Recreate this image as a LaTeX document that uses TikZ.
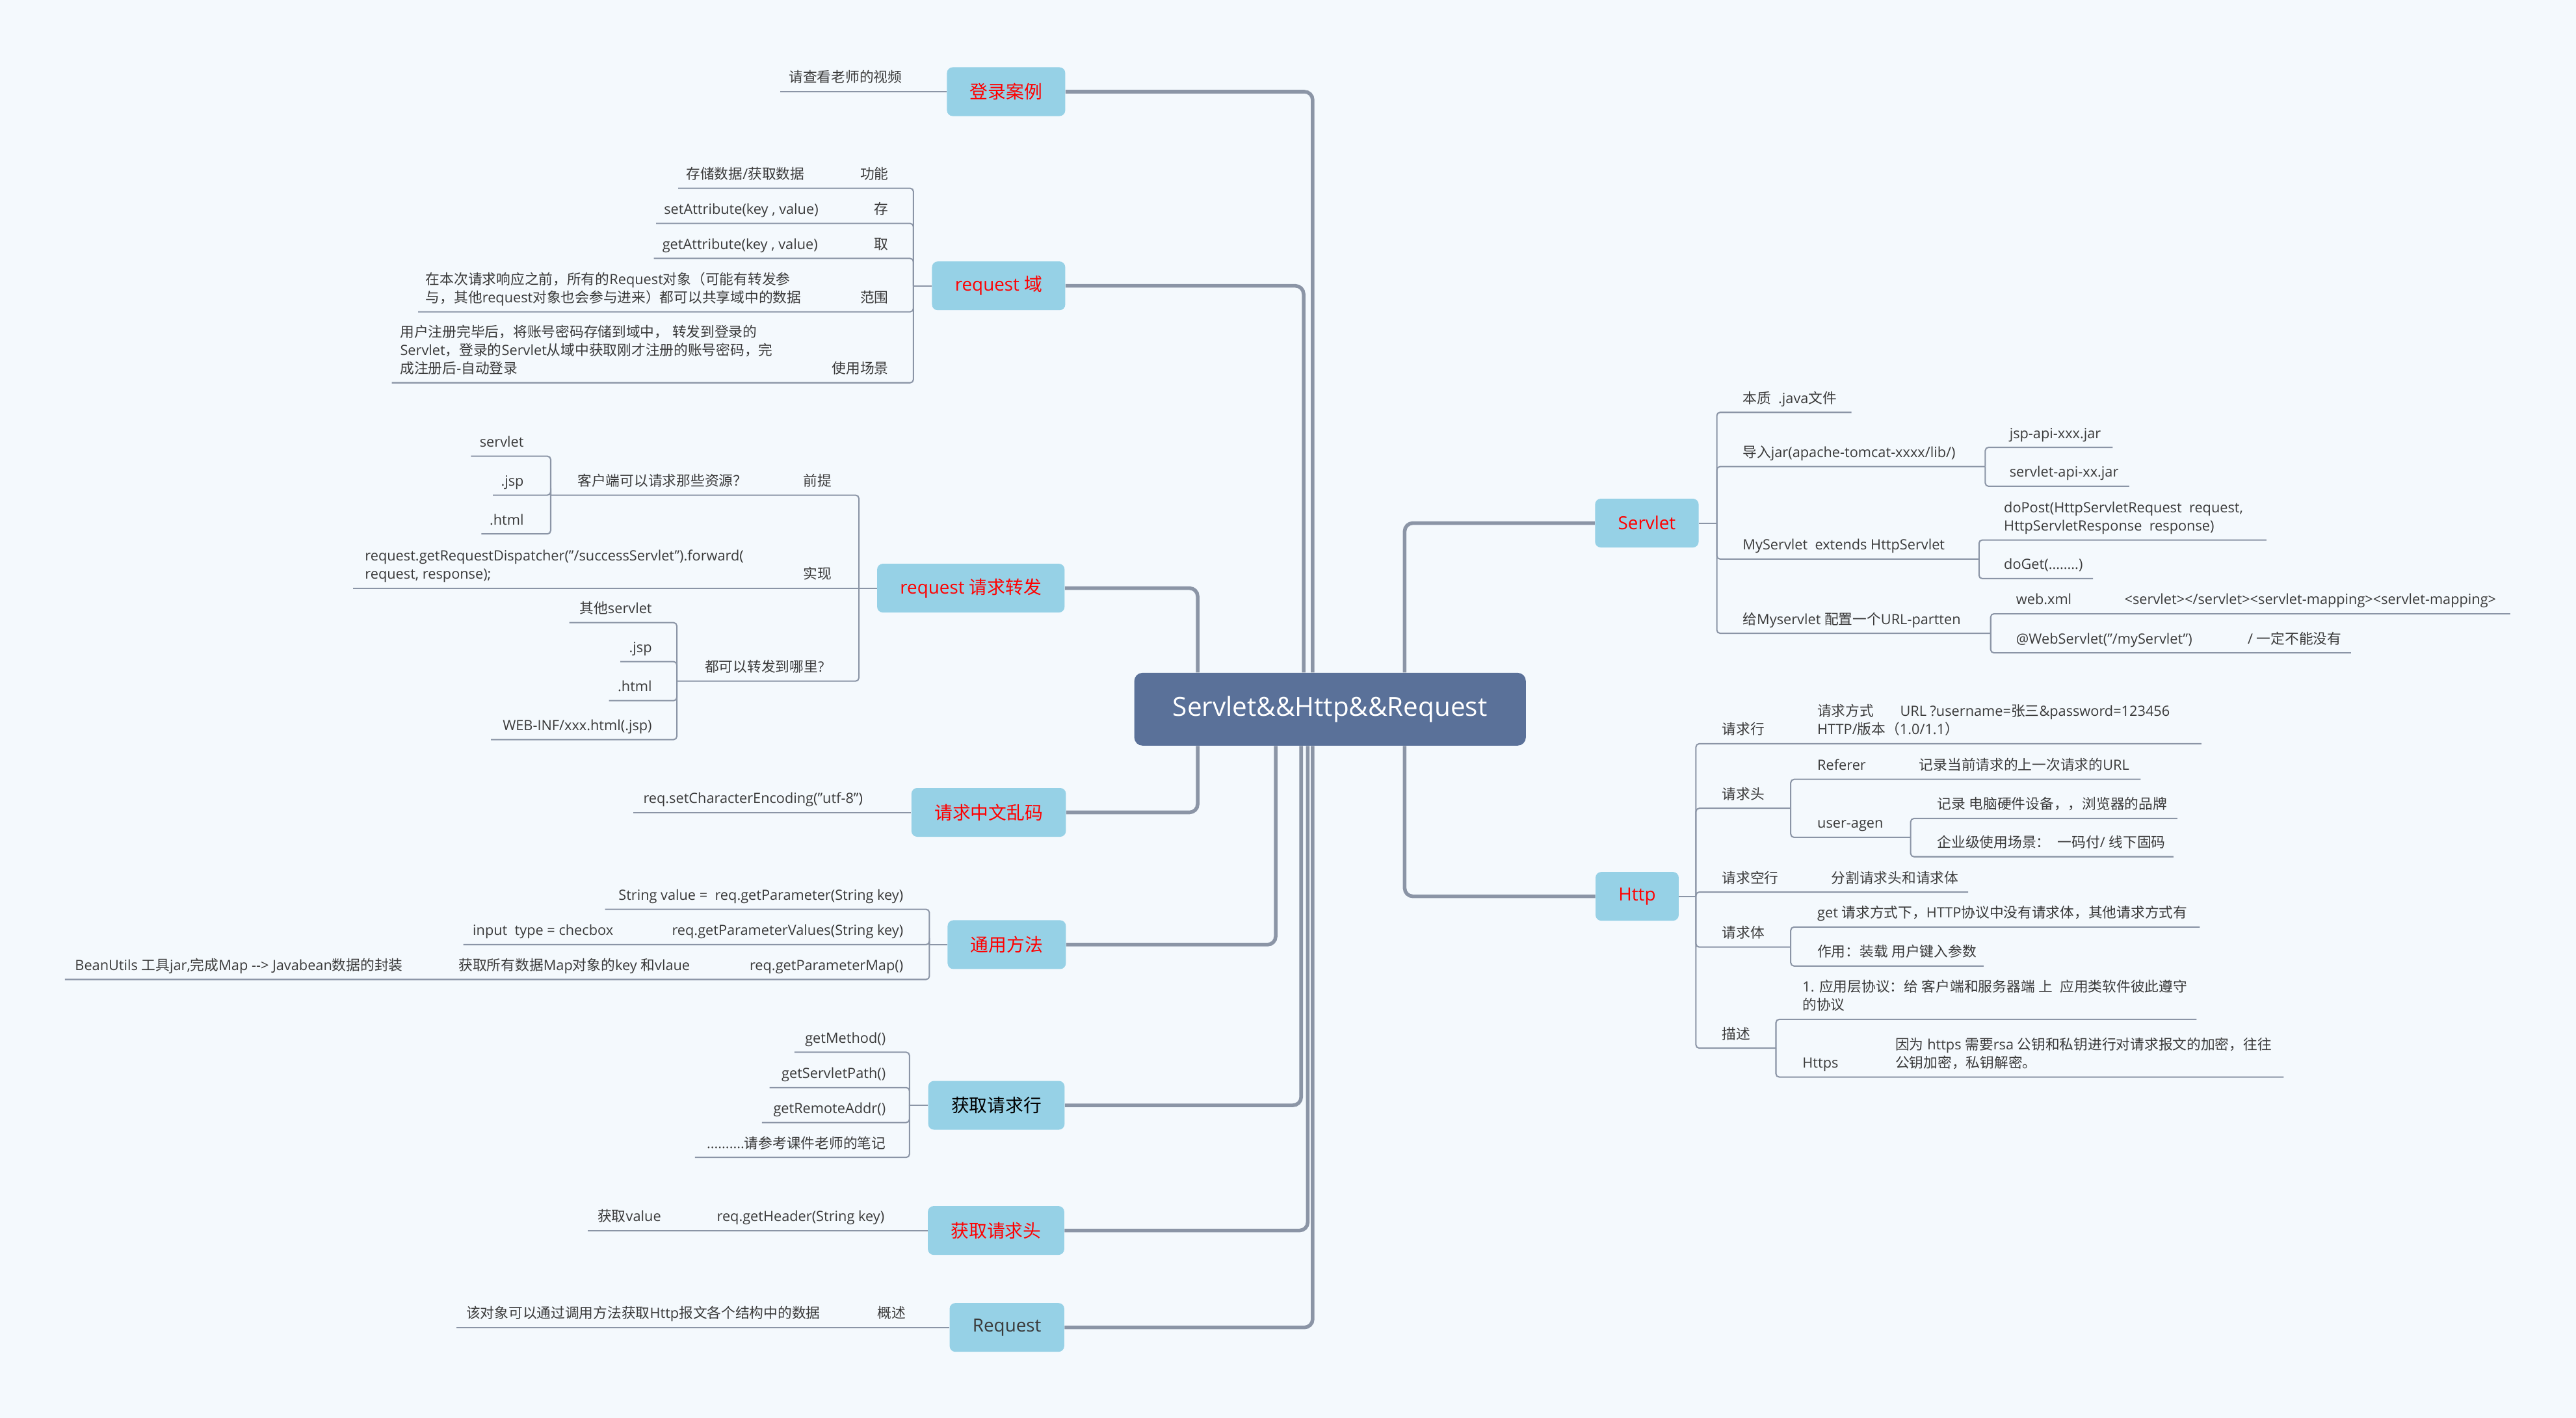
\documentclass[tikz,border=0pt]{standalone}
\usepackage{fontspec}
\setmainfont{Open Sans}
\newfontfamily\cjkfont{Noto Sans CJK SC}
% CJK characters switch to the CJK family by themselves
\XeTeXinterchartokenstate=1
\newXeTeXintercharclass\cjkclass
\newcount\cjkcode
\newcommand{\cjkrange}[2]{%
  \cjkcode=#1\relax
  \loop\ifnum\cjkcode<#2\relax
    \XeTeXcharclass\cjkcode=\cjkclass
    \advance\cjkcode by 1
  \repeat}
\cjkrange{"3000}{"3040}
\cjkrange{"4E00}{"A000}
\cjkrange{"FF00}{"FFF0}
\XeTeXinterchartoks 0 \cjkclass = {\cjkfont}
\XeTeXinterchartoks 4095 \cjkclass = {\cjkfont}
\XeTeXinterchartoks \cjkclass 0 = {\rmfamily}
\XeTeXinterchartoks \cjkclass 4095 = {\rmfamily}
\definecolor{paper}{HTML}{F4F9FD}
\definecolor{wire}{HTML}{8B95A6}
\definecolor{sky}{HTML}{96D1E6}
\definecolor{slate}{HTML}{5A7199}
\definecolor{ink}{HTML}{3A3A3A}
\definecolor{alert}{HTML}{FF0000}

\begin{document}
\begin{tikzpicture}[
  x=1pt, y=-1pt,
  root/.style={
    rounded corners=5pt,
    fill=slate,
    text=white,
    font=\fontsize{16}{19}\selectfont,
    inner xsep=23.5pt,
    minimum height=44.3pt
  },
  topic/.style={
    rounded corners=3.5pt,
    fill=sky,
    text=alert,
    font=\fontsize{11}{13}\selectfont,
    inner xsep=14pt,
    minimum height=29.7pt
  },
  leaf/.style={
    anchor=south west,
    inner sep=0pt,
    text=ink,
    align=left,
    font=\fontsize{8.6}{11.2}\selectfont,
    execute at end node=\strut
  },
  trunk/.style={wire, line width=2.2pt, rounded corners=5pt},
  twig/.style={wire, line width=.8pt, rounded corners=2pt}
]

\path[use as bounding box,fill=paper] (0,0) rectangle (1568,863);

% main topics
\node[root] (root) at (809.6,431.7) {Servlet\&\&Http\&\&Request};

\node[topic,anchor=east] (login) at (648.6,55.8) {登录案例};
\node[topic,anchor=east] (domain) at (648.6,174) {request 域};
\node[topic,anchor=east] (fwd) at (648.2,358) {request 请求转发};
\node[topic,anchor=east] (enc) at (649,494.5) {请求中文乱码};
\node[topic,anchor=east] (gen) at (649,575) {通用方法};
\node[topic,anchor=east,text=black] (reqline) at (648.2,672.8) {获取请求行};
\node[topic,anchor=east] (reqhead) at (648,749) {获取请求头};
\node[topic,anchor=east,text=ink] (req) at (648,808) {Request};
\node[topic,anchor=west] (srv) at (970.7,318.4) {Servlet};
\node[topic,anchor=west] (http) at (971,545.6) {Http};

\draw[trunk] (login.east) -| ([xshift=-10.6pt]root.north);
\draw[trunk] (domain.east) -| ([xshift=-16.1pt]root.north);
\draw[trunk] (fwd.east) -| ([xshift=-80.6pt]root.north);
\draw[trunk] (enc.east) -| ([xshift=-80.6pt]root.south);
\draw[trunk] (gen.east) -| ([xshift=-33.1pt]root.south);
\draw[trunk] (reqline.east) -| ([xshift=-17.6pt]root.south);
\draw[trunk] (reqhead.east) -| ([xshift=-13.6pt]root.south);
\draw[trunk] (req.east) -| ([xshift=-10.6pt]root.south);
\draw[trunk] ([xshift=45.4pt]root.north) |- (srv.west);
\draw[trunk] ([xshift=45.4pt]root.south) |- (http.west);

% 登录案例
\coordinate (login1) at (475,55.8);
\draw[twig] (login.west) -- (login1);
\node[leaf] (login1a) at (480,53.8) {请查看老师的视频};

% request 域
\coordinate (domj) at (556,174);
\draw[twig] (domain.west) -- (domj);
\foreach \n/\x/\y in {d1/412.8/114.6, d2/399.4/136, d3/398/157.3,
                      d4/254.5/189.8, d5/238.5/233} {
  \coordinate (\n) at (\x,\y);
  \draw[twig] (domj) |- (\n);
}
\node[leaf] (d1a) at (417.5,112.6) {存储数据/获取数据};
\node[leaf,anchor=south east] (d1b) at (541,112.6) {功能};
\node[leaf] (d2a) at (404,134) {setAttribute(key , value)};
\node[leaf,anchor=south east] (d2b) at (541,134) {存};
\node[leaf] (d3a) at (403,155.3) {getAttribute(key , value)};
\node[leaf,anchor=south east] (d3b) at (541,155.3) {取};
\node[leaf] (d4a) at (259,187.8)
  {在本次请求响应之前，所有的Request对象（可能有转发参\\
   与，其他request对象也会参与进来）都可以共享域中的数据};
\node[leaf,anchor=south east] (d4b) at (541,187.8) {范围};
\node[leaf] (d5a) at (243.4,231)
  {用户注册完毕后，将账号密码存储到域中， 转发到登录的\\
   Servlet，登录的Servlet从域中获取刚才注册的账号密码，完\\
   成注册后-自动登录};
\node[leaf,anchor=south east] (d5b) at (541,231) {使用场景};

% request 请求转发
\coordinate (fwdj) at (522.8,358);
\draw[twig] (fwd.west) -- (fwdj);
\coordinate (f1j) at (335.2,301.4);
\coordinate (f2) at (215,358);
\coordinate (f3j) at (412,414.6);
\draw[twig] (fwdj) |- (f1j);
\draw[twig] (fwdj) -- (f2);
\draw[twig] (fwdj) |- (f3j);
\foreach \n/\x/\y in {f11/286.7/277.7, f12/300/301.4, f13/293/325} {
  \coordinate (\n) at (\x,\y);
  \draw[twig] (f1j) |- (\n);
}
\foreach \n/\x/\y in {f31/346.5/379, f32/377.6/402.7, f33/370.7/426.5,
                      f34/298.8/450.2} {
  \coordinate (\n) at (\x,\y);
  \draw[twig] (f3j) |- (\n);
}
\node[leaf] (f1a) at (351.4,299.4) {客户端可以请求那些资源？};
\node[leaf,anchor=south east] (f1b) at (506.5,299.4) {前提};
\node[leaf,anchor=south east] (f11a) at (319,275.7) {servlet};
\node[leaf,anchor=south east] (f12a) at (319,299.4) {.jsp};
\node[leaf,anchor=south east] (f13a) at (319,323) {.html};
\node[leaf] (f2a) at (222,356)
  {request.getRequestDispatcher("/successServlet").forward(\\
   request, response);};
\node[leaf,anchor=south east] (f2b) at (506.5,356) {实现};
\node[leaf] (f3a) at (428.9,412.6) {都可以转发到哪里?};
\node[leaf,anchor=south east] (f31a) at (397,377) {其他servlet};
\node[leaf,anchor=south east] (f32a) at (397,400.7) {.jsp};
\node[leaf,anchor=south east] (f33a) at (397,424.5) {.html};
\node[leaf,anchor=south east] (f34a) at (397,448.2) {WEB-INF/xxx.html(.jsp)};

% 请求中文乱码
\coordinate (enc1) at (385.4,494.5);
\draw[twig] (enc.west) -- (enc1);
\node[leaf] (enc1a) at (391.4,492.5) {req.setCharacterEncoding("utf-8")};

% 通用方法
\coordinate (genj) at (565.7,575);
\draw[twig] (gen.west) -- (genj);
\foreach \n/\x/\y in {g1/368.3/553.5, g2/282/575, g3/39.5/596.2} {
  \coordinate (\n) at (\x,\y);
  \draw[twig] (genj) |- (\n);
}
\node[leaf,anchor=south east] (g1a) at (550,551.5)
  {String value = \ req.getParameter(String key)};
\node[leaf] (g2a) at (287.6,573) {input \ type = checbox};
\node[leaf,anchor=south east] (g2b) at (550,573)
  {req.getParameterValues(String key)};
\node[leaf] (g3a) at (45.5,594.2)
  {BeanUtils 工具jar,完成Map -{}-> Javabean数据的封装};
\node[leaf] (g3b) at (279,594.2) {获取所有数据Map对象的key 和vlaue};
\node[leaf,anchor=south east] (g3c) at (550,594.2) {req.getParameterMap()};

% 获取请求行
\coordinate (linej) at (553.6,672.8);
\draw[twig] (reqline.west) -- (linej);
\foreach \n/\x/\y in {l1/483.6/640.5, l2/468.4/662, l3/463.8/683.3,
                      l4/423/704.5} {
  \coordinate (\n) at (\x,\y);
  \draw[twig] (linej) |- (\n);
}
\node[leaf,anchor=south east] (l1a) at (539.3,638.5) {getMethod()};
\node[leaf,anchor=south east] (l2a) at (539.3,660) {getServletPath()};
\node[leaf,anchor=south east] (l3a) at (539.3,681.3) {getRemoteAddr()};
\node[leaf,anchor=south east] (l4a) at (539.3,702.5)
  {..........请参考课件老师的笔记};

% 获取请求头
\coordinate (head1) at (357.8,749);
\draw[twig] (reqhead.west) -- (head1);
\node[leaf] (head1a) at (363.6,747) {获取value};
\node[leaf,anchor=south east] (head1b) at (538.5,747)
  {req.getHeader(String key)};

% Request
\coordinate (req1) at (278,808);
\draw[twig] (req.west) -- (req1);
\node[leaf] (req1a) at (283.6,806)
  {该对象可以通过调用方法获取Http报文各个结构中的数据};
\node[leaf,anchor=south east] (req1b) at (551.6,806) {概述};

% Servlet
\coordinate (srvj) at (1045,318.4);
\draw[twig] (srv.east) -- (srvj);
\coordinate (s1) at (1127,251);
\coordinate (s2j) at (1208.4,284);
\coordinate (s3j) at (1204.6,340.3);
\coordinate (s4j) at (1211.7,385.5);
\foreach \n in {s1,s2j,s3j,s4j} {
  \draw[twig] (srvj) |- (\n);
}
\foreach \m/\n/\x/\y in {s2j/s21/1286/272.3, s2j/s22/1296/296,
                         s3j/s31/1379.5/328.7, s3j/s32/1274/352.2,
                         s4j/s41/1528/373.6, s4j/s42/1431/397.4} {
  \coordinate (\n) at (\x,\y);
  \draw[twig] (\m) |- (\n);
}
\node[leaf] (s1a) at (1060.6,249) {本质 \ .java文件};
\node[leaf] (s2a) at (1060.6,282) {导入jar(apache-tomcat-xxxx/lib/)};
\node[leaf] (s21a) at (1223,270.3) {jsp-api-xxx.jar};
\node[leaf] (s22a) at (1223,294) {servlet-api-xx.jar};
\node[leaf] (s3a) at (1060.6,338.3) {MyServlet \ extends HttpServlet};
\node[leaf] (s31a) at (1219.6,326.7)
  {doPost(HttpServletRequest \ request,\\
   HttpServletResponse \ response)};
\node[leaf] (s32a) at (1219.6,350.2) {doGet(........)};
\node[leaf] (s4a) at (1060.6,383.5) {给Myservlet 配置一个URL-partten};
\node[leaf] (s41a) at (1227,371.6) {web.xml};
\node[leaf] (s41b) at (1293,371.6)
  {<servlet></servlet><servlet-mapping><servlet-mapping>};
\node[leaf] (s42a) at (1227,395.4) {@WebServlet("/myServlet")};
\node[leaf] (s42b) at (1368,395.4) {/ 一定不能没有};

% Http
\coordinate (httpj) at (1032.3,545.6);
\draw[twig] (http.east) -- (httpj);
\coordinate (h1) at (1340,452.7);
\coordinate (h2j) at (1090,492);
\coordinate (h3) at (1198,543);
\coordinate (h4j) at (1090,576.5);
\coordinate (h5j) at (1081,638);
\foreach \n in {h1,h2j,h3,h4j,h5j} {
  \draw[twig] (httpj) |- (\n);
}
\coordinate (h22j) at (1163,509.7);
\foreach \m/\n/\x/\y in {h2j/h21/1303/474.4, h22j/h221/1325.3/498.2,
                         h22j/h222/1323/521.5, h4j/h41/1339/564.3,
                         h4j/h42/1207.4/588, h5j/h51/1337/620.5,
                         h5j/h52/1390/655.6} {
  \coordinate (\n) at (\x,\y);
  \draw[twig] (\m) |- (\n);
}
\draw[twig] (h2j) |- (h22j);
\node[leaf] (h1a) at (1048,450.7) {请求行};
\node[leaf] (h1b) at (1106,450.7)
  {请求方式\hspace{16pt}URL ?username=张三\&password=123456\\
   HTTP/版本（1.0/1.1）};
\node[leaf] (h2a) at (1048,490) {请求头};
\node[leaf] (h21a) at (1106,472.4) {Referer};
\node[leaf] (h21b) at (1168,472.4) {记录当前请求的上一次请求的URL};
\node[leaf] (h22a) at (1106,507.7) {user-agen};
\node[leaf] (h221a) at (1179,496.2) {记录 电脑硬件设备，，浏览器的品牌};
\node[leaf] (h222a) at (1179,519.5) {企业级使用场景： \ 一码付/ 线下固码};
\node[leaf] (h3a) at (1048,541) {请求空行};
\node[leaf] (h3b) at (1114.5,541) {分割请求头和请求体};
\node[leaf] (h4a) at (1048,574.5) {请求体};
\node[leaf] (h41a) at (1106,562.3)
  {get 请求方式下，HTTP协议中没有请求体，其他请求方式有};
\node[leaf] (h42a) at (1106,586) {作用：装载 用户键入参数};
\node[leaf] (h5a) at (1048,636) {描述};
\node[leaf] (h51a) at (1097,618.5)
  {1. 应用层协议：给 客户端和服务器端 上 \ 应用类软件彼此遵守\\
   的协议};
\node[leaf] (h52a) at (1097,653.6) {Https};
\node[leaf] (h52b) at (1153.5,653.6)
  {因为 https 需要rsa 公钥和私钥进行对请求报文的加密，往往\\
   公钥加密，私钥解密。};

\end{tikzpicture}
\end{document}
